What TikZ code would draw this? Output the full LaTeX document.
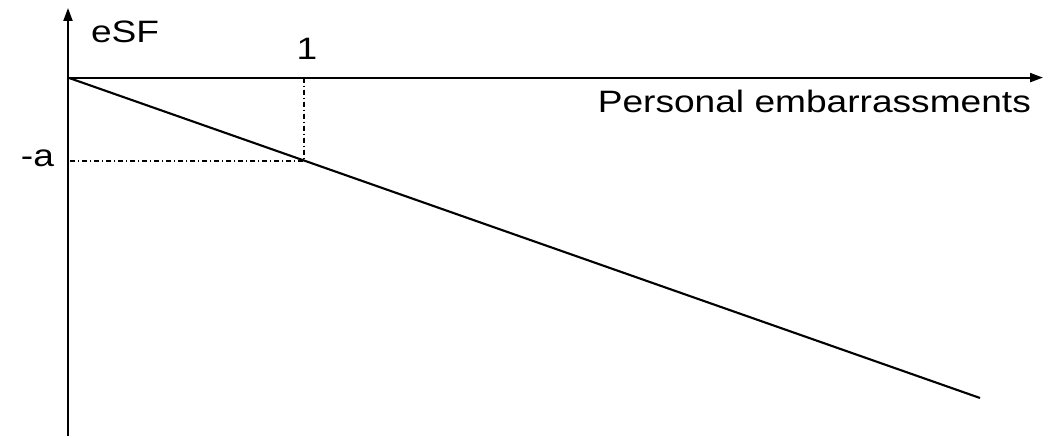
\documentclass[tikz,border=0pt]{standalone}
\usepackage{fontspec}
\setmainfont{Liberation Sans}
\usetikzlibrary{arrows.meta}
\newcommand{\widetext}[1]{\scalebox{1.2}[1]{#1}}
\begin{document}
\begin{tikzpicture}
[nodes={inner sep=0pt, font=\fontsize{8.8pt}{10pt}\selectfont},
 >={Triangle[length=0.13cm, width=0.09cm]}, line width=0.6pt,
 guide/.style={line width=0.4pt, dash pattern=on 0.05cm off 0.03cm on 0.01cm off 0.03cm}]
\useasboundingbox (0,0) rectangle (10.45,4.36);
\coordinate (O) at (0.68,3.584);
\coordinate (Ytop) at (0.68,4.28);
\coordinate (Ybot) at (0.68,0);
\coordinate (Xend) at (10.43,3.584);
\coordinate (Xone) at (3.04,3.584);
\coordinate (Yma) at (0.68,2.75);
\coordinate (P) at (3.04,2.75);
\coordinate (Lend) at (9.80,0.38);

\draw[->] (Ybot) -- (Ytop);
\draw[->] (O) -- (Xend);
\draw (O) -- (Lend);
\draw[guide] (Xone) -- (P) -- (Yma);

\node (eSF) at (0.90,3.93) [anchor=base west] {\widetext{eSF}};
\node (one) at (3.07,3.76) [anchor=base] {\widetext{1}};
\node (ma) at (0.55,2.69) [anchor=base east] {\widetext{-a}};
\node (PE) at (10.32,3.23) [anchor=base east] {\widetext{Personal embarrassments}};
\end{tikzpicture}
\end{document}
